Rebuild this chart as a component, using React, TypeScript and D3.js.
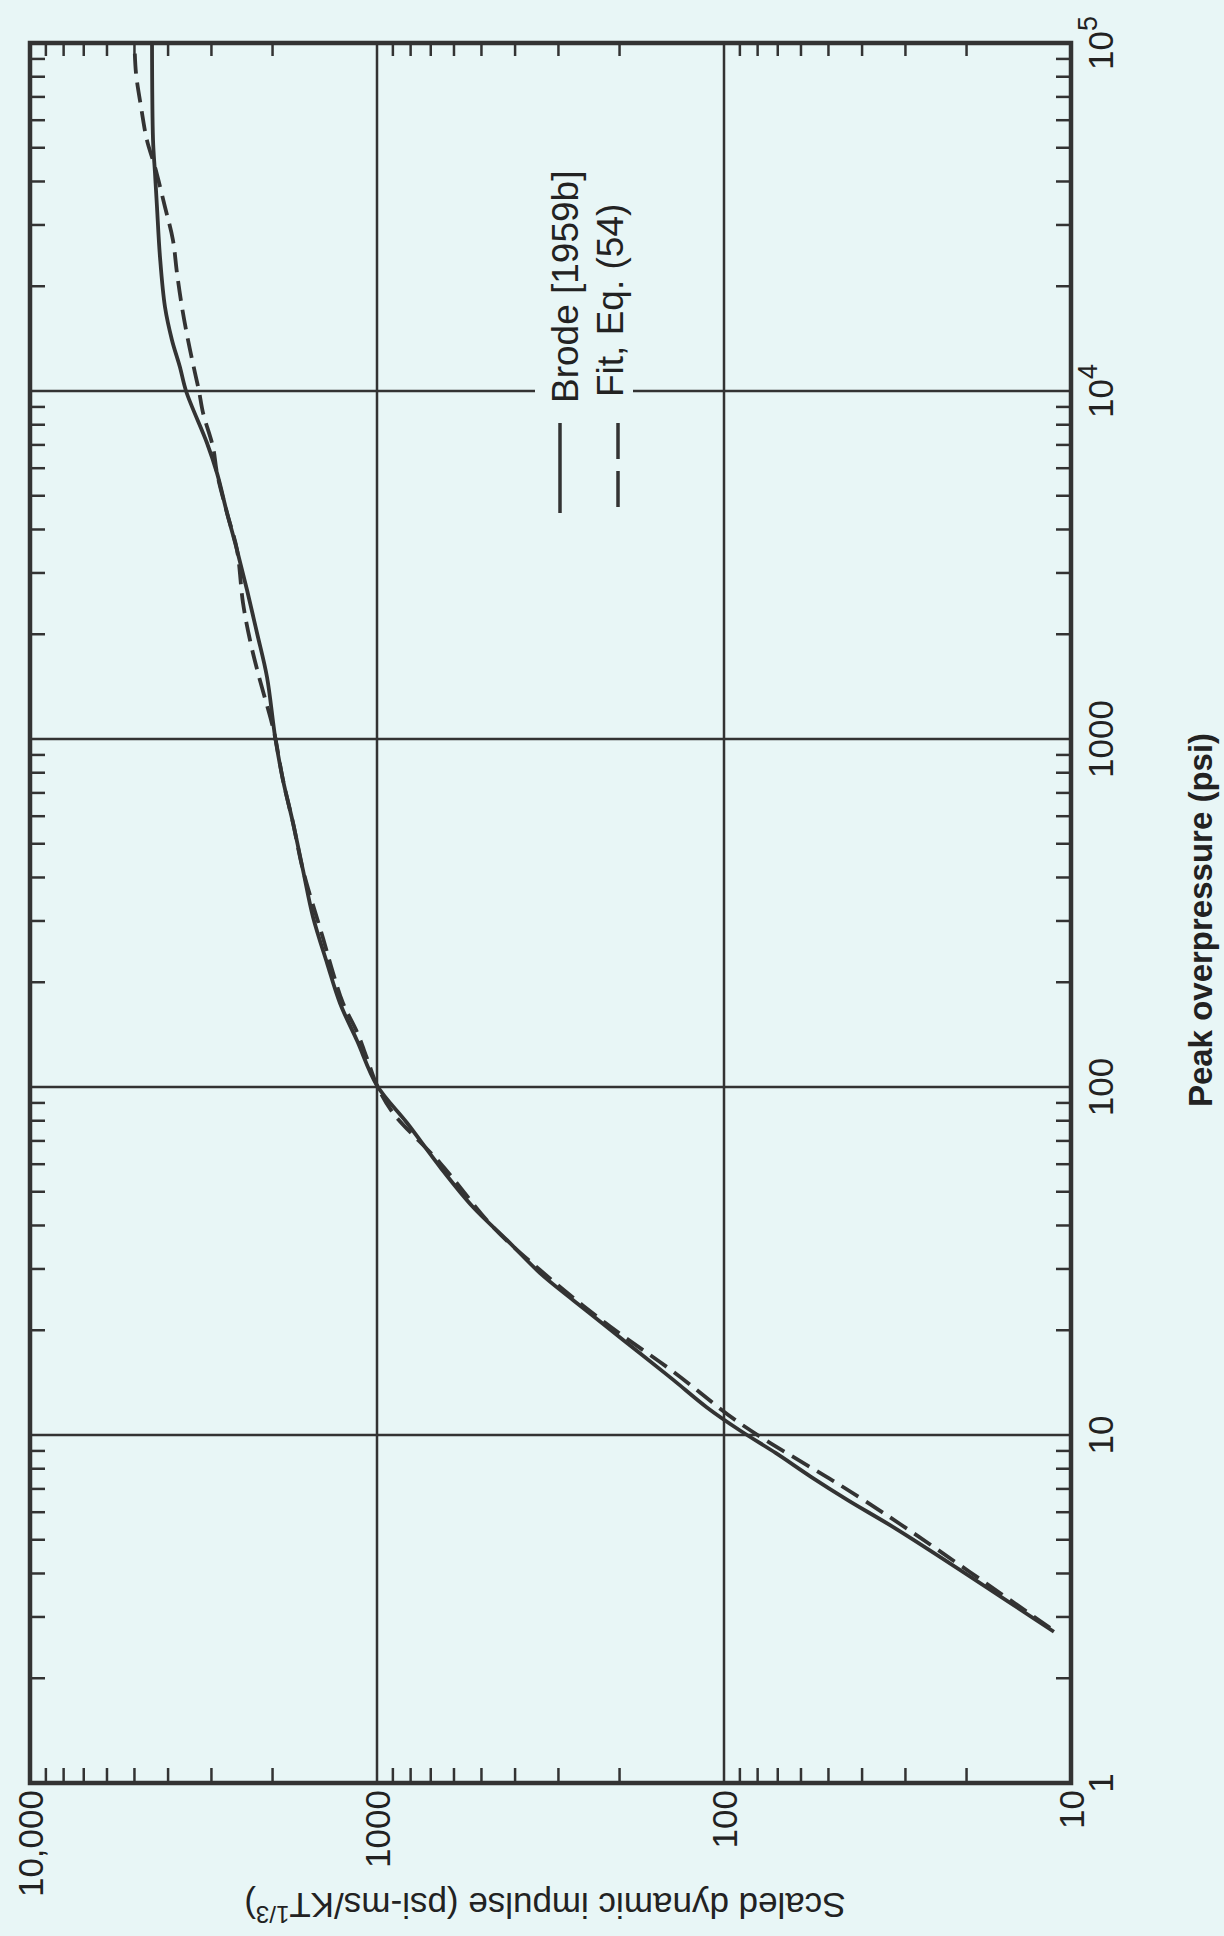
import * as d3 from 'd3';

// Brode [1959b] curve (solid) — peak overpressure (psi) vs scaled dynamic impulse
const brodePressure = [2.72, 5.33, 6.5, 7.57, 8.88, 10.3, 12.0, 14.4, 17.2, 20.4, 24.4, 29.2, 36.3, 45.2, 58.9, 78.8, 101, 136, 174, 227, 308, 420, 574, 762, 1010, 1507, 2017, 2680, 3494, 4460, 5808, 7090, 9950, 11720, 14020, 17430, 24270, 33800, 42300, 52600, 100000];
const brodeImpulse = [11.2, 31.5, 44.0, 56.0, 71.0, 89.9, 112, 140, 175, 217, 272, 339, 422, 529, 658, 819, 1000, 1142, 1278, 1393, 1529, 1634, 1746, 1866, 1965, 2075, 2217, 2369, 2532, 2705, 2891, 3090, 3545, 3698, 3899, 4083, 4221, 4306, 4363, 4420, 4450];

// Fit, Eq. (54) curve (dashed)
const fitPressure = [2.79, 5.55, 7.18, 7.78, 10.8, 15.2, 21.0, 29.8, 39.6, 60.5, 84.2, 101, 121, 144, 174, 213, 268, 420, 574, 762, 1010, 1112, 1549, 1925, 2460, 3494, 4460, 5808, 6900, 8650, 10000, 11270, 14020, 17430, 21850, 27150, 33800, 44000, 52600, 65500, 82000, 100000];
const fitImpulse = [11.5, 31.1, 46.3, 52.9, 89.9, 140, 220, 339, 463, 658, 899, 1000, 1069, 1142, 1253, 1339, 1431, 1634, 1746, 1866, 1965, 2010, 2203, 2323, 2433, 2532, 2705, 2891, 2969, 3172, 3258, 3346, 3505, 3648, 3771, 3873, 4083, 4363, 4603, 4786, 4950, 5000];

const pressureTicks = [1, 10, 100, 1000, 10000, 100000];
const pressureLabelBase = ['1', '10', '100', '1000', '10', '10'];
const pressureLabelSup = ['', '', '', '', '4', '5'];
const impulseTicks = [10, 100, 1000, 10000];
const impulseLabels = ['10', '100', '1000', '10,000'];

const legendLabels = ['Brode [1959b]', 'Fit, Eq. (54)'];

const W = 1224;
const H = 1936;
const INK = '#333';
const BG = '#e8f6f6';
const FONT = 'Liberation Sans, Arial, Helvetica, sans-serif';

export default function App() {
  // the chart is printed rotated: pressure runs bottom -> top, impulse right -> left
  const pScale = d3.scaleLog().domain([1, 1e5]).range([1783, 43]);
  const iScale = d3.scaleLog().domain([10, 10000]).range([1071, 30]);

  const [left, right] = [iScale(10000), iScale(10)];
  const [top, bottom] = [pScale(1e5), pScale(1)];

  const isDecade = (v: number) => Math.abs(Math.log10(v) - Math.round(Math.log10(v))) < 1e-9;
  const pMinor = pScale.ticks().filter((v) => !isDecade(v));
  const iMinor = iScale.ticks().filter((v) => !isDecade(v));

  const line = d3
    .line<[number, number]>()
    .x((d) => iScale(d[1]))
    .y((d) => pScale(d[0]))
    .curve(d3.curveCatmullRom.alpha(0.5));

  const brode = line(brodePressure.map((p, i) => [p, brodeImpulse[i]]) as [number, number][]) || '';
  const fit = line(fitPressure.map((p, i) => [p, fitImpulse[i]]) as [number, number][]) || '';

  const tick = 15;

  return (
    <svg
      width={W}
      height={H}
      style={{ position: 'absolute', left: 0, top: 0, background: BG }}
      fontFamily={FONT}
    >
      <rect x={0} y={0} width={W} height={H} fill={BG} />

      {/* grid lines */}
      {pressureTicks.slice(1, -1).map((p) => (
        <line key={'gp' + p} x1={left} x2={right} y1={pScale(p)} y2={pScale(p)} stroke={INK} strokeWidth={2.5} />
      ))}
      {impulseTicks.slice(1, -1).map((v) => (
        <line key={'gi' + v} x1={iScale(v)} x2={iScale(v)} y1={top} y2={bottom} stroke={INK} strokeWidth={2.5} />
      ))}

      {/* minor ticks, inward on all four sides */}
      {pMinor.map((p) => (
        <g key={'mp' + p}>
          <line x1={right - tick} x2={right} y1={pScale(p)} y2={pScale(p)} stroke={INK} strokeWidth={2.5} />
          <line x1={left} x2={left + tick} y1={pScale(p)} y2={pScale(p)} stroke={INK} strokeWidth={2.5} />
        </g>
      ))}
      {iMinor.map((v) => (
        <g key={'mi' + v}>
          <line x1={iScale(v)} x2={iScale(v)} y1={top} y2={top + tick - 2} stroke={INK} strokeWidth={2.5} />
          <line x1={iScale(v)} x2={iScale(v)} y1={bottom - tick} y2={bottom} stroke={INK} strokeWidth={2.5} />
        </g>
      ))}

      {/* legend (box hides the grid line behind it) */}
      <rect x={535} y={150} width={98} height={380} fill={BG} />
      <line x1={560} x2={560} y1={423} y2={513} stroke={INK} strokeWidth={3.5} />
      <line x1={618} x2={618} y1={423} y2={513} stroke={INK} strokeWidth={3.5} strokeDasharray="36 12" />
      <text transform="translate(578,403) rotate(-90)" fontSize={37} fill="#222">
        {legendLabels[0]}
      </text>
      <text transform="translate(623,397) rotate(-90)" fontSize={37} fill="#222">
        {legendLabels[1]}
      </text>

      {/* curves */}
      <path d={brode} fill="none" stroke={INK} strokeWidth={3.8} strokeLinejoin="round" />
      <path d={fit} fill="none" stroke={INK} strokeWidth={3.8} strokeDasharray="20 9" />

      {/* frame */}
      <rect x={left} y={top} width={right - left} height={bottom - top} fill="none" stroke={INK} strokeWidth={4.5} />

      {/* pressure tick labels (right side) */}
      {pressureTicks.map((p, i) => (
        <text
          key={'lp' + p}
          transform={`translate(1113,${pScale(p)}) rotate(-90)`}
          textAnchor="middle"
          fontSize={35}
          fill="#222"
        >
          {pressureLabelBase[i]}
          {pressureLabelSup[i] && (
            <tspan dy={-16} fontSize={27}>
              {pressureLabelSup[i]}
            </tspan>
          )}
        </text>
      ))}

      {/* impulse tick labels (bottom) */}
      {impulseTicks.map((v, i) => (
        <text
          key={'li' + v}
          transform={`translate(${iScale(v) + 13},1790) rotate(-90)`}
          textAnchor="end"
          fontSize={35}
          fill="#222"
        >
          {impulseLabels[i]}
        </text>
      ))}

      {/* axis titles */}
      <text
        transform={`translate(1212,920) rotate(-90)`}
        textAnchor="middle"
        fontSize={33}
        fontWeight="bold"
        fill="#222"
      >
        Peak overpressure (psi)
      </text>
      <text transform={`translate(545,1893) rotate(180)`} textAnchor="middle" fontSize={35} fill="#222">
        Scaled dynamic impulse (psi-ms/KT
        <tspan dy={-13} fontSize={24}>
          1/3
        </tspan>
        <tspan dy={13}>)</tspan>
      </text>
    </svg>
  );
}
